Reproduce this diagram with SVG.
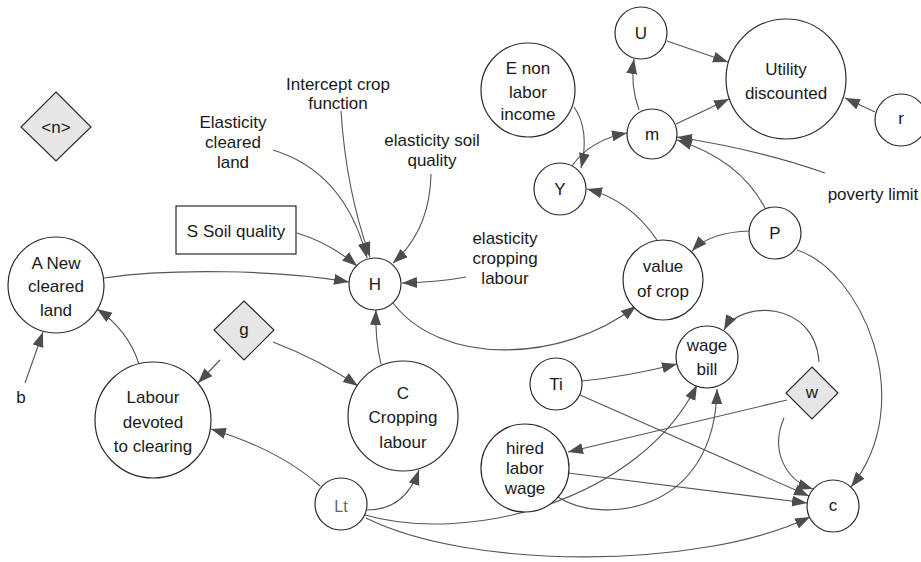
<svg xmlns="http://www.w3.org/2000/svg" width="921" height="562" viewBox="0 0 921 562">
<defs>
<marker id="ah" markerUnits="userSpaceOnUse" markerWidth="16" markerHeight="12" refX="15" refY="5.5" orient="auto">
<path d="M0,0 L15,5.5 L0,11 z" fill="#4d4d4d"/>
</marker>
<style>
.n circle,.n rect,.n polygon{fill:#fff;stroke:#2b2b2b;stroke-width:1.2}
.n polygon{fill:#e6e6e6}
text{font-family:"Liberation Sans",Arial,sans-serif;font-size:17px;fill:#1a1a1a;text-anchor:middle}
#conn path{fill:none;stroke:#555;stroke-width:1.1;marker-end:url(#ah)}
</style>
</defs>
<rect width="921" height="562" fill="#fff"/>
<g id="conn">
<path d="M273,150 Q345,172 367,258"/>
<path d="M341,111 Q346,190 370,257"/>
<path d="M431,174 Q430,230 393,263"/>
<path d="M297,233 Q330,243 357,266"/>
<path d="M466,277 Q440,282 402,283"/>
<path d="M104,278 C170,268 280,270 349,282"/>
<path d="M393,303 C440,365 560,365 636,306"/>
<path d="M381,364 Q375,340 376,310"/>
<path d="M220,360 L198,383"/>
<path d="M273,342 Q320,360 358,386"/>
<path d="M139,364 Q128,330 97,309"/>
<path d="M25,383 L43,332"/>
<path d="M320,486 Q280,450 211,429"/>
<path d="M367,510 Q405,510 419,470"/>
<path d="M365,515 C470,545 640,500 697,385"/>
<path d="M366,518 C470,570 700,570 810,517"/>
<path d="M582,381 Q630,376 677,364"/>
<path d="M580,395 L809,496"/>
<path d="M568,473 L807,503"/>
<path d="M558,497 C600,525 715,515 717,389"/>
<path d="M787,400 L568,452"/>
<path d="M819,362 C815,300 740,300 724,330"/>
<path d="M784,418 C770,450 785,480 813,489"/>
<path d="M797,250 C860,270 920,400 851,487"/>
<path d="M750,231 Q710,232 692,251"/>
<path d="M765,208 Q740,160 677,140"/>
<path d="M825,173 Q760,150 677,137"/>
<path d="M639,110 Q630,85 634,59"/>
<path d="M667,41 L728,62"/>
<path d="M676,124 L729,99"/>
<path d="M875,112 L845,98"/>
<path d="M572,166 Q590,140 627,133"/>
<path d="M574,107 Q590,130 581,168"/>
<path d="M657,240 Q630,200 587,189"/>
</g>
<g id="n_n" class="n"><polygon points="56,92 91,127 56,161 21,127"/><text x="56" y="133">&lt;n&gt;</text></g>
<g id="elast_cleared"><text x="233" y="128">Elasticity</text><text x="233" y="148">cleared</text><text x="233" y="168">land</text></g>
<g id="intercept"><text x="338" y="90">Intercept crop</text><text x="338" y="109">function</text></g>
<g id="elast_soil"><text x="432" y="146">elasticity soil</text><text x="432" y="166">quality</text></g>
<g id="elast_crop"><text x="505" y="244">elasticity</text><text x="505" y="264">cropping</text><text x="505" y="284">labour</text></g>
<g id="poverty"><text x="873" y="200">poverty limit</text></g>
<g id="b"><text x="21" y="403">b</text></g>
<g id="S" class="n"><rect x="176" y="206" width="120" height="48"/><text x="236" y="237">S Soil quality</text></g>
<g id="A" class="n"><circle cx="56" cy="285" r="48"/><text x="56" y="269">A New</text><text x="56" y="292">cleared</text><text x="56" y="316">land</text></g>
<g id="Ld" class="n"><circle cx="153" cy="420" r="58"/><text x="153" y="403">Labour</text><text x="153" y="428">devoted</text><text x="153" y="452">to clearing</text></g>
<g id="g" class="n"><polygon points="244,301 274,330 244,360 214,330"/><text x="244" y="335">g</text></g>
<g id="C" class="n"><circle cx="403" cy="416" r="55"/><text x="403" y="399">C</text><text x="403" y="423">Cropping</text><text x="403" y="448">labour</text></g>
<g id="H" class="n"><circle cx="375" cy="284" r="26"/><text x="375" y="290">H</text></g>
<g id="E" class="n"><circle cx="528" cy="90" r="47"/><text x="528" y="74">E non</text><text x="528" y="98">labor</text><text x="528" y="120">income</text></g>
<g id="U" class="n"><circle cx="641" cy="33" r="26"/><text x="641" y="39">U</text></g>
<g id="m" class="n"><circle cx="652" cy="134" r="25"/><text x="652" y="140">m</text></g>
<g id="Y" class="n"><circle cx="560" cy="189" r="26"/><text x="560" y="195">Y</text></g>
<g id="Util" class="n"><circle cx="786" cy="79" r="60"/><text x="786" y="75">Utility</text><text x="786" y="99">discounted</text></g>
<g id="r" class="n"><circle cx="901" cy="120" r="26"/><text x="901" y="124">r</text></g>
<g id="P" class="n"><circle cx="775" cy="233" r="26"/><text x="775" y="239">P</text></g>
<g id="V" class="n"><circle cx="663" cy="280" r="40"/><text x="663" y="272">value</text><text x="663" y="297">of crop</text></g>
<g id="WB" class="n"><circle cx="707" cy="357" r="31"/><text x="707" y="351">wage</text><text x="707" y="375">bill</text></g>
<g id="Ti" class="n"><circle cx="556" cy="384" r="26"/><text x="556" y="390">Ti</text></g>
<g id="w" class="n"><polygon points="812,367 838,393 812,419 786,393"/><text x="812" y="398">w</text></g>
<g id="HL" class="n"><circle cx="525" cy="468" r="44"/><text x="525" y="454">hired</text><text x="525" y="474">labor</text><text x="525" y="494">wage</text></g>
<g id="c" class="n"><circle cx="833" cy="506" r="26"/><text x="833" y="511">c</text></g>
<g id="Lt" class="n"><circle cx="341" cy="504" r="26"/><text x="341" y="512" style="fill:#666;font-size:16px">Lt</text></g>
</svg>
